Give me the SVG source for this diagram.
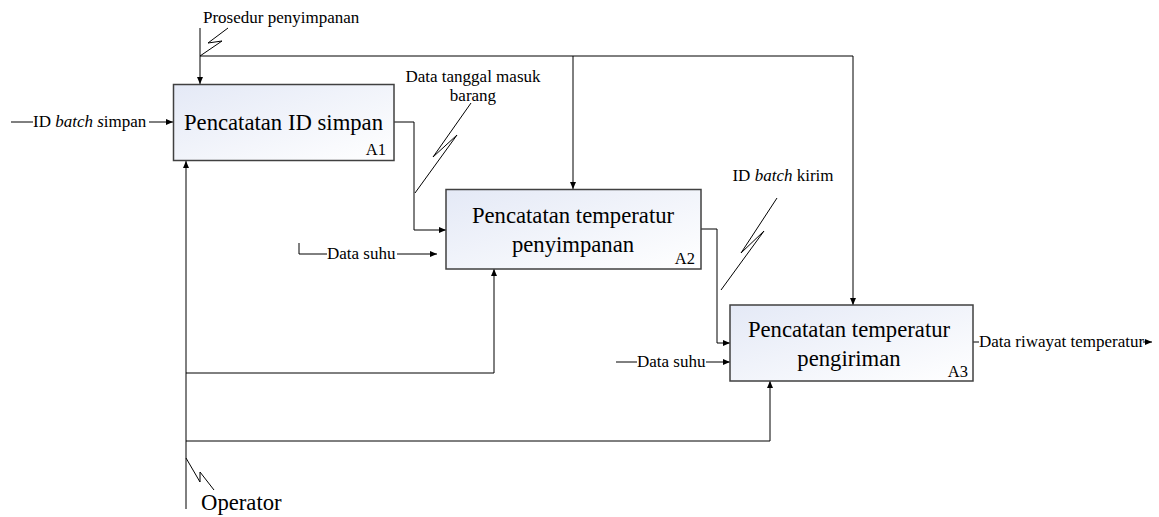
<svg xmlns="http://www.w3.org/2000/svg" width="1159" height="517" viewBox="0 0 1159 517">
<style>
.c{fill:none;stroke:#000;stroke-width:1}
.a{marker-end:url(#ah)}
.box{fill:url(#g);stroke:#404040;stroke-width:1.5}
.t{font-family:"Liberation Serif","Times New Roman",serif;fill:#000}
.lbl{font-size:17px}
.ttl{font-size:22.7px}
.num{font-size:16.5px}
</style>
<defs>
<marker id="ah" markerWidth="8" markerHeight="8" refX="7" refY="4" orient="auto" markerUnits="userSpaceOnUse">
<path d="M0,1 L7,4 L0,7 Z" fill="#000"/>
</marker>
<linearGradient id="g" x1="0" y1="0" x2="1" y2="1">
<stop offset="0" stop-color="#e4e9f6"/>
<stop offset="1" stop-color="#ffffff"/>
</linearGradient>
</defs>
<g id="connectors">
<path class="c a" d="M200,28 L200,84"/>
<path class="c" d="M200,56 L853,56"/>
<path class="c a" d="M573,56 L573,189"/>
<path class="c a" d="M853,56 L853,305"/>
<path class="c" d="M200,56 L222,41 L208,43 L228,28"/>
<path class="c" d="M11,122 L33,122"/>
<path class="c a" d="M149,122 L173,122"/>
<path class="c a" d="M394,122 L414,122 L414,230 L446,230"/>
<path class="c" d="M415,193 L457,135 L433,157 L471,103"/>
<path class="c" d="M299,243 L299,254 L327,254"/>
<path class="c a" d="M397,254 L437,254"/>
<path class="c a" d="M701,229 L717,229 L717,343 L730,343"/>
<path class="c" d="M721,290 L764,231 L741,253 L777,198"/>
<path class="c" d="M616,362 L637,362"/>
<path class="c a" d="M706,362 L730,362"/>
<path class="c" d="M973,342 L979,342"/>
<path class="c a" d="M1143,342 L1152,342"/>
<path class="c a" d="M186,509 L186,161"/>
<path class="c a" d="M186,373 L494,373 L494,269"/>
<path class="c a" d="M186,441 L770,441 L770,381"/>
<path class="c" d="M186,458 L200,482 L200,472 L214,490"/>
</g>
<g id="A1">
<rect class="box" x="173.5" y="84.5" width="220.5" height="76"/>
<text class="t ttl" x="283.5" y="130" text-anchor="middle">Pencatatan ID simpan</text>
<text class="t num" x="386" y="155" text-anchor="end">A1</text>
</g>
<g id="A2">
<rect class="box" x="446" y="189.5" width="255" height="79.5"/>
<text class="t ttl" x="573" y="223" text-anchor="middle">Pencatatan temperatur</text>
<text class="t ttl" x="573" y="252" text-anchor="middle">penyimpanan</text>
<text class="t num" x="695" y="264" text-anchor="end">A2</text>
</g>
<g id="A3">
<rect class="box" x="730" y="305" width="243" height="76"/>
<text class="t ttl" x="849" y="337" text-anchor="middle">Pencatatan temperatur</text>
<text class="t ttl" x="849" y="366" text-anchor="middle">pengiriman</text>
<text class="t num" x="968" y="377" text-anchor="end">A3</text>
</g>
<g id="labels">
<text class="t lbl" x="203" y="23">Prosedur penyimpanan</text>
<text class="t lbl" x="33" y="127">ID <tspan font-style="italic">batch s</tspan>impan</text>
<text class="t lbl" x="473" y="82" text-anchor="middle">Data tanggal masuk</text>
<text class="t lbl" x="473" y="101" text-anchor="middle">barang</text>
<text class="t lbl" x="327" y="259">Data suhu</text>
<text class="t lbl" x="783" y="181" text-anchor="middle">ID <tspan font-style="italic">batch</tspan> kirim</text>
<text class="t lbl" x="637" y="367">Data suhu</text>
<text class="t lbl" x="979" y="347">Data riwayat temperatur</text>
<text class="t ttl" x="201" y="510">Operator</text>
</g>
</svg>
